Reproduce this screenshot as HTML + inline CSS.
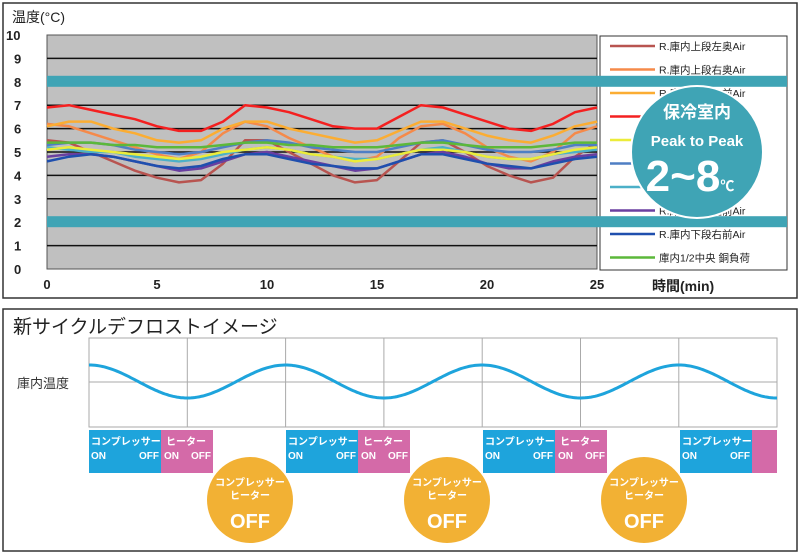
<!DOCTYPE html>
<html><head><meta charset="utf-8"><style>
body{margin:0;width:800px;height:555px;background:#fff;overflow:hidden}
svg{display:block;font-family:"Liberation Sans","Noto Sans CJK JP",sans-serif}
</style></head><body>
<svg id="s" width="800" height="555">
<rect x="3" y="3" width="794" height="295" fill="#fff" stroke="#333" stroke-width="1.5"/>
<rect x="47" y="35" width="550" height="234" fill="#c0c0c0" stroke="#555"/>
<g id="grid"></g>
<g id="series"></g>
<text x="12" y="22" font-size="14" fill="#222">温度(°C)</text>
<g id="yticks" font-size="13" font-weight="bold" fill="#222"></g>
<g id="xticks" font-size="13" font-weight="bold" fill="#222"></g>
<text x="652" y="291" font-size="14" font-weight="bold" fill="#222">時間(min)</text>
<rect x="600" y="36" width="187" height="234" fill="#fff" stroke="#333"/>
<g id="legend" font-size="10.5" fill="#222"></g>
<g id="bands"></g>
<circle cx="697" cy="152" r="66" fill="#3fa4b5" stroke="#fff" stroke-width="2"/>
<text x="697" y="118" font-size="17" font-weight="bold" fill="#fff" text-anchor="middle">保冷室内</text>
<text x="697" y="146" font-size="15" font-weight="bold" fill="#fff" text-anchor="middle">Peak to Peak</text>
<text x="690" y="191" font-size="44" font-weight="bold" fill="#fff" text-anchor="middle">2~8<tspan font-size="14">℃</tspan></text>

<rect x="3" y="309" width="794" height="242" fill="#fff" stroke="#333" stroke-width="1.5"/>
<text x="13" y="333" font-size="19" fill="#222">新サイクルデフロストイメージ</text>
<text x="17" y="388" font-size="13" fill="#333">庫内温度</text>
<rect x="89" y="338" width="688" height="89" fill="#fff" stroke="#aaa"/>
<g id="wgrid"></g>
<path id="wave" fill="none" stroke="#1ea4dc" stroke-width="3"/>
<g id="boxes"></g>
</svg>
<script>
const times=[0,1,2,3,4,5,6,7,8,9,10,11,12,13,14,15,16,17,18,19,20,21,22,23,24,25];
const yTicks=[0,1,2,3,4,5,6,7,8,9,10];
const xTicks=[0,5,10,15,20,25];
const bandValues=[8,2];
const sBrown=[5.5,5.4,5.0,4.6,4.2,3.9,3.7,3.8,4.5,5.5,5.5,5.0,4.5,4.0,3.7,3.8,4.6,5.4,5.5,5.0,4.4,4.0,3.7,3.9,4.8,5.4];
const sOrange=[6.2,6.1,5.8,5.5,5.2,4.9,4.7,5.0,5.8,6.3,6.1,5.6,5.2,4.8,4.6,4.8,5.6,6.1,6.2,5.8,5.2,4.8,4.6,5.0,5.8,6.1];
const sAmber=[6.1,6.3,6.3,6.0,5.8,5.5,5.4,5.5,6.0,6.3,6.3,6.0,5.8,5.6,5.4,5.5,5.9,6.3,6.3,6.0,5.7,5.5,5.4,5.7,6.1,6.3];
const sRed=[6.9,7.0,6.8,6.6,6.4,6.1,5.9,5.9,6.3,7.0,6.9,6.7,6.4,6.1,6.0,6.0,6.5,7.0,6.9,6.6,6.3,6.0,5.9,6.2,6.7,6.9];
const sYellow=[5.1,5.2,5.1,5.0,4.9,4.8,4.7,4.8,5.0,5.1,5.2,5.1,4.9,4.8,4.6,4.7,4.9,5.1,5.1,5.0,4.8,4.7,4.7,4.9,5.1,5.2];
const sBlue=[5.3,5.4,5.4,5.3,5.1,5.0,4.9,5.0,5.2,5.4,5.5,5.4,5.2,5.1,5.0,5.0,5.2,5.4,5.5,5.3,5.1,5.0,5.0,5.1,5.3,5.3];
const sCyan=[5.2,5.1,5.0,5.0,4.8,4.7,4.6,4.7,4.9,5.1,5.2,5.1,4.9,4.8,4.7,4.7,4.9,5.1,5.2,5.0,4.8,4.7,4.7,4.9,5.0,5.1];
const sPurple=[4.8,4.9,4.9,4.8,4.6,4.4,4.2,4.3,4.6,4.9,5.0,4.8,4.6,4.4,4.2,4.3,4.6,4.9,5.0,4.8,4.5,4.3,4.3,4.6,4.8,4.9];
const sNavy=[4.6,4.8,4.9,4.8,4.6,4.4,4.3,4.4,4.7,4.9,4.9,4.7,4.5,4.4,4.3,4.3,4.6,4.9,4.9,4.7,4.5,4.4,4.3,4.5,4.7,4.8];
const sGreen=[5.4,5.4,5.4,5.3,5.3,5.2,5.2,5.2,5.3,5.4,5.4,5.3,5.3,5.2,5.2,5.2,5.3,5.4,5.4,5.3,5.2,5.2,5.2,5.3,5.4,5.4];
const seriesNames=["R.庫内上段左奥Air","R.庫内上段右奥Air","R.庫内上段左前Air","R.庫内中段左奥Air","R.庫内中段右奥Air","R.庫内中段前Air","R.庫内下段奥Air","R.庫内下段左前Air","R.庫内下段右前Air","庫内1/2中央 銅負荷"];
const seriesData=[sBrown,sOrange,sAmber,sRed,sYellow,sBlue,sCyan,sPurple,sNavy,sGreen];
const seriesColors=["#b85450","#f58a4a","#fbad33","#f42020","#ecec3a","#4f7fc4","#4cb0c8","#6a3fa0","#1f4fae","#5cb83a"];
const drawOrder=[0,1,2,3,6,4,5,7,8,9];

const NS="http://www.w3.org/2000/svg";
function mk(t,a,p){const e=document.createElementNS(NS,t);for(const k in a)e.setAttribute(k,a[k]);p.appendChild(e);return e;}
const X=v=>47+v*22, Y=v=>269-v*23.4;
const g=document.getElementById('grid');
yTicks.forEach(v=>{if(v>0&&v<10){const l=mk('line',{x1:47,x2:597,y1:Y(v),y2:Y(v),stroke:'#111','stroke-width':1.5},g);

}
const t=mk('text',{x:v==10?6:14,y:Y(v)+5},document.getElementById('yticks'));t.textContent=v;

});
xTicks.forEach(v=>{const t=mk('text',{x:X(v),y:289,'text-anchor':'middle'},document.getElementById('xticks'));t.textContent=v;

});
const sg=document.getElementById('series');
drawOrder.forEach(i=>{const d=seriesData[i].map((v,j)=>(j?'L':'M')+X(times[j]).toFixed(1)+','+Y(v).toFixed(1)).join('');
const p=mk('path',{d:d,fill:'none',stroke:seriesColors[i],'stroke-width':2.5,'stroke-linejoin':'round'},sg);

});
const lg=document.getElementById('legend');
seriesNames.forEach((n,i)=>{const y=46+i*23.5;
const l=mk('line',{x1:610,x2:655,y1:y,y2:y,stroke:seriesColors[i],'stroke-width':2.5},lg);


const t=mk('text',{x:659,y:y+4},lg);t.textContent=n;

});
const bg=document.getElementById('bands');
bandValues.forEach(v=>{const r=mk('rect',{x:47,y:Y(v)-6,width:740,height:11,fill:'#3fa4b5'},bg);

});
// bottom wave
const wg=document.getElementById('wgrid');
for(let i=1;i<7;i++){const x=89+i*98.3;const l=mk('line',{x1:x,x2:x,y1:338,y2:427,stroke:'#aaa'},wg);

}
const hl=mk('line',{x1:89,x2:777,y1:382,y2:382,stroke:'#aaa'},wg);


let wd='';for(let x=89;x<=777;x+=2){const y=381.5-16.5*Math.cos((x-89)/196.6*2*Math.PI);wd+=(x==89?'M':'L')+x+','+y.toFixed(1);}
document.getElementById('wave').setAttribute('d',wd);
const bx=document.getElementById('boxes');
[89,286,483,680].forEach((x0,k)=>{
 const b=mk('rect',{x:x0,y:430,width:72,height:43,fill:'#1ea4dc'},bx);
 
 
 let t=mk('text',{x:x0+2,y:445,'font-size':10,'font-weight':'bold',fill:'#fff'},bx);t.textContent='コンプレッサー';
 t=mk('text',{x:x0+2,y:459,'font-size':10,'font-weight':'bold',fill:'#fff'},bx);t.textContent='ON';
 t=mk('text',{x:x0+70,y:459,'font-size':10,'font-weight':'bold',fill:'#fff','text-anchor':'end'},bx);t.textContent='OFF';
 const pw=k==3?25:52;
 const p=mk('rect',{x:x0+72,y:430,width:pw,height:43,fill:'#d46aa8'},bx);
 
 
 if(k<3){
  t=mk('text',{x:x0+77,y:445,'font-size':10,'font-weight':'bold',fill:'#fff'},bx);t.textContent='ヒーター';
  t=mk('text',{x:x0+75,y:459,'font-size':10,'font-weight':'bold',fill:'#fff'},bx);t.textContent='ON';
  t=mk('text',{x:x0+122,y:459,'font-size':10,'font-weight':'bold',fill:'#fff','text-anchor':'end'},bx);t.textContent='OFF';
  const cx=x0+161;
  const c=mk('circle',{cx:cx,cy:500,r:43,fill:'#f2b134'},bx);
  
  
  t=mk('text',{x:cx,y:486,'font-size':10,'font-weight':'bold',fill:'#fff','text-anchor':'middle'},bx);t.textContent='コンプレッサー';
  t=mk('text',{x:cx,y:499,'font-size':10,'font-weight':'bold',fill:'#fff','text-anchor':'middle'},bx);t.textContent='ヒーター';
  t=mk('text',{x:cx,y:528,'font-size':20,'font-weight':'bold',fill:'#fff','text-anchor':'middle'},bx);t.textContent='OFF';
 }
});
</script>
</body></html>
